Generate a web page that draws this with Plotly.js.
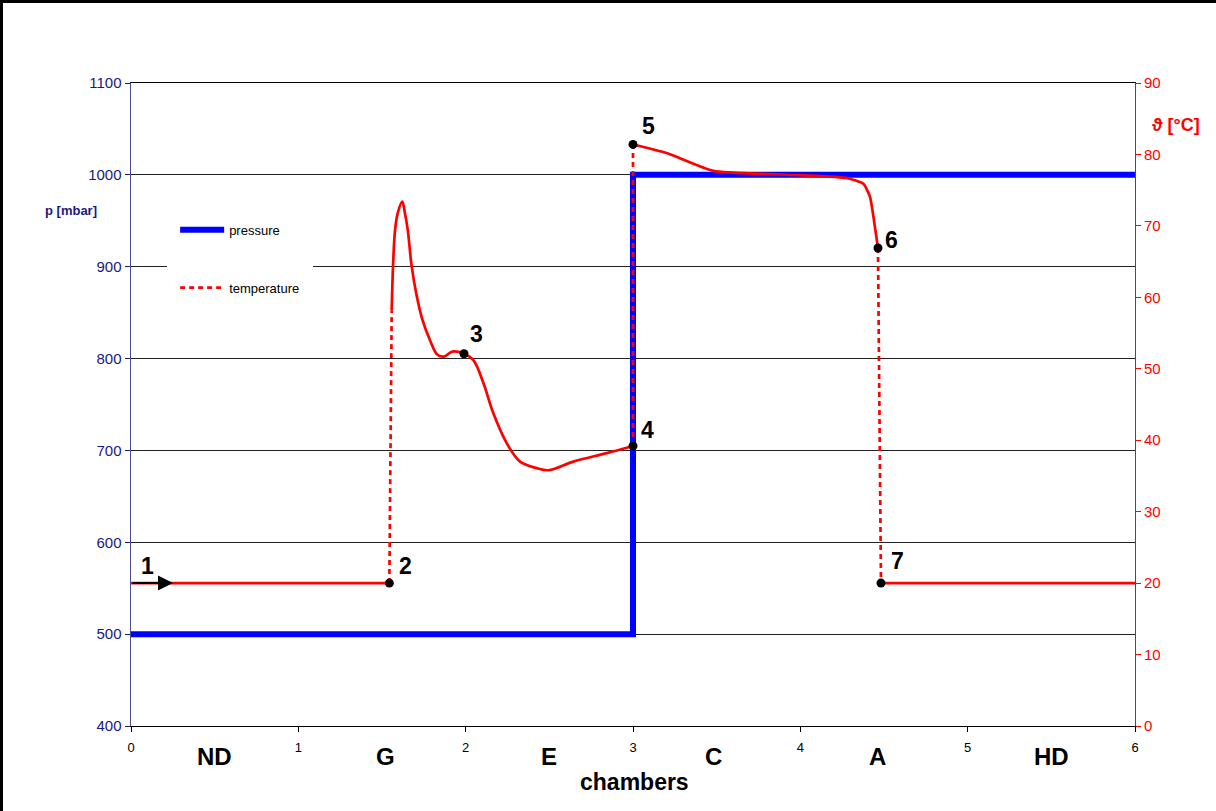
<!DOCTYPE html>
<html>
<head>
<meta charset="utf-8">
<script src="https://cdn.plot.ly/plotly-3.0.1.min.js"></script>
<style>
html,body{margin:0;padding:0;background:#fff;}
#wrap{position:relative;width:1216px;height:811px;}
#chart{width:1216px;height:811px;}
#frame{position:absolute;left:0;top:0;width:1216px;height:811px;border-top:3px solid #000;border-left:3px solid #000;box-sizing:border-box;pointer-events:none;}
</style>
</head>
<body>
<div id="wrap"><div id="chart"></div><div id="frame"></div></div>
<script>
// ---- data ----
const chamberTicks = [0, 1, 2, 3, 4, 5, 6];
const chamberNames = ['ND', 'G', 'E', 'C', 'A', 'HD'];
const chamberLabelX = [0.5, 1.52, 2.5, 3.48, 4.46, 5.5];

const pressureX = [0, 3, 3, 6];
const pressureY = [500, 500, 1000, 1000];

// temperature, solid pieces
const tempInletX = [0, 1.544];
const tempInletY = [20, 20];
const tempGX = [1.558, 1.566, 1.578, 1.594, 1.621, 1.637, 1.654, 1.677, 1.705, 1.740, 1.787, 1.830, 1.870, 1.920, 1.990, 2.046, 2.106, 2.165, 2.245, 2.325, 2.424, 2.494, 2.643, 2.843, 3.0];
const tempGY = [58.2, 64.4, 69.4, 71.8, 73.4, 71.8, 69.4, 64.4, 60.5, 57.0, 54.0, 52.0, 51.7, 52.4, 52.1, 51.2, 48.0, 43.8, 39.6, 37.0, 36.1, 35.8, 37.0, 38.2, 39.2];
const tempCX = [3.0, 3.201, 3.480, 3.998, 4.277, 4.377, 4.416, 4.440, 4.464];
const tempCY = [81.4, 80.2, 77.7, 77.1, 76.7, 75.9, 74.1, 70.8, 66.9];
const tempOutX = [4.482, 6];
const tempOutY = [20, 20];

// temperature, dotted jumps
const jump1X = [1.544, 1.558]; const jump1Y = [20, 58.2];
const jump2X = [3.0, 3.0];     const jump2Y = [39.2, 81.4];
const jump3X = [4.464, 4.482]; const jump3Y = [66.9, 20];

// state points
const pointX = [1.544, 1.990, 3.0, 3.0, 4.464, 4.482];
const pointY = [20, 52.1, 39.2, 81.4, 66.9, 20];
const pointLabels = ['2', '3', '4', '5', '6', '7'];
const startPoint = {x: 0, y: 20, label: '1', arrowTo: 0.251};

// ---- styles ----
const FONT = 'Liberation Sans, Arial, sans-serif';
const RED = '#ff0000';
const NAVY = '#1a1a80';
const solid = {color: RED, width: 2.7};
const dotted = {color: RED, width: 2.7, dash: '5px,4px'};

const traces = [
  {x: pressureX, y: pressureY, mode: 'lines', name: 'pressure', line: {color: '#0000ff', width: 6}, legendgroup: 'p', showlegend: true, hoverinfo: 'skip'},
  {x: tempInletX, y: tempInletY, yaxis: 'y2', mode: 'lines', line: solid, showlegend: false, hoverinfo: 'skip'},
  {x: tempGX, y: tempGY, yaxis: 'y2', mode: 'lines', line: Object.assign({shape: 'spline', smoothing: 1}, solid), showlegend: false, hoverinfo: 'skip'},
  {x: tempCX, y: tempCY, yaxis: 'y2', mode: 'lines', line: Object.assign({shape: 'spline', smoothing: 0.5}, solid), showlegend: false, hoverinfo: 'skip'},
  {x: tempOutX, y: tempOutY, yaxis: 'y2', mode: 'lines', line: solid, showlegend: false, hoverinfo: 'skip'},
  {x: jump1X, y: jump1Y, yaxis: 'y2', mode: 'lines', name: 'temperature', line: dotted, legendgroup: 't', showlegend: true, hoverinfo: 'skip'},
  {x: jump2X, y: jump2Y, yaxis: 'y2', mode: 'lines', line: dotted, showlegend: false, hoverinfo: 'skip'},
  {x: jump3X, y: jump3Y, yaxis: 'y2', mode: 'lines', line: dotted, showlegend: false, hoverinfo: 'skip'},
  {x: pointX, y: pointY, yaxis: 'y2', mode: 'markers', marker: {color: '#000', size: 9}, showlegend: false, hoverinfo: 'skip'}
];

const labelShift = [[16, 17], [13, 20], [14, 16], [15, 18], [14, 8], [17, 22]];
const annotations = [];
pointLabels.forEach((t, i) => {
  annotations.push({x: pointX[i], y: pointY[i], xref: 'x', yref: 'y2', text: '<b>' + t + '</b>', showarrow: false,
    xshift: labelShift[i][0], yshift: labelShift[i][1], font: {family: FONT, size: 23, color: '#000'}});
});
annotations.push({x: startPoint.x, y: startPoint.y, xref: 'x', yref: 'y2', text: '<b>' + startPoint.label + '</b>', showarrow: false,
  xshift: 16, yshift: 17, font: {family: FONT, size: 23, color: '#000'}});
annotations.push({x: startPoint.arrowTo, y: startPoint.y, ax: startPoint.x, ay: startPoint.y, xref: 'x', yref: 'y2', axref: 'x', ayref: 'y2',
  text: '', showarrow: true, arrowhead: 2, arrowsize: 1.5, arrowwidth: 2, arrowcolor: '#000'});
chamberNames.forEach((n, i) => {
  annotations.push({x: chamberLabelX[i], y: -0.048, xref: 'x', yref: 'paper', text: '<b>' + n + '</b>', showarrow: false,
    xanchor: 'center', yanchor: 'middle', font: {family: FONT, size: 24, color: '#000'}});
});
annotations.push({x: 3.01, y: -0.087, xref: 'x', yref: 'paper', text: '<b>chambers</b>', showarrow: false, xanchor: 'center', yanchor: 'middle',
  font: {family: FONT, size: 23, color: '#000'}});
annotations.push({x: -0.0598, y: 0.801, xref: 'paper', yref: 'paper', text: '<b>p [mbar]</b>', showarrow: false, xanchor: 'center', yanchor: 'middle',
  font: {family: FONT, size: 13, color: NAVY}});
annotations.push({x: 1.041, y: 0.935, xref: 'paper', yref: 'paper', text: '<b>\u03D1 [°C]</b>', showarrow: false, xanchor: 'center', yanchor: 'middle',
  font: {family: FONT, size: 18, color: RED}});

const layout = {
  width: 1216, height: 811,
  margin: {l: 131, r: 81, t: 83, b: 85},
  paper_bgcolor: '#fff', plot_bgcolor: '#fff',
  font: {family: FONT},
  showlegend: true,
  legend: {x: 0.036, y: 0.8076, xanchor: 'left', yanchor: 'top', bgcolor: '#fff', bordercolor: '#fff', borderwidth: 8,
    traceorder: 'grouped', tracegroupgap: 38, itemwidth: 44, entrywidth: 140, entrywidthmode: 'pixels',
    font: {family: FONT, size: 13, color: '#000'}},
  xaxis: {range: [0, 6], tickvals: chamberTicks, ticktext: chamberTicks.map(String), ticks: 'outside', ticklen: 5, tickcolor: '#000',
    showline: true, mirror: true, linecolor: '#000', linewidth: 1, showgrid: false, zeroline: false,
    tickfont: {family: FONT, size: 13, color: '#000'}, ticklabelstandoff: 4},
  yaxis: {range: [400, 1100], dtick: 100, tick0: 400, ticks: 'outside', ticklen: 5, tickcolor: NAVY,
    showline: true, linecolor: '#4b4b9a', linewidth: 1.5, showgrid: true, gridcolor: '#222', gridwidth: 1, zeroline: false,
    tickfont: {family: FONT, size: 15, color: NAVY}},
  yaxis2: {range: [0, 90], dtick: 10, tick0: 0, overlaying: 'y', side: 'right', ticks: 'outside', ticklen: 5, tickcolor: RED,
    showline: true, linecolor: RED, linewidth: 1, showgrid: false, zeroline: false,
    tickfont: {family: FONT, size: 15, color: RED}},
  annotations: annotations
};

Plotly.newPlot('chart', traces, layout, {staticPlot: true});
</script>
</body>
</html>
